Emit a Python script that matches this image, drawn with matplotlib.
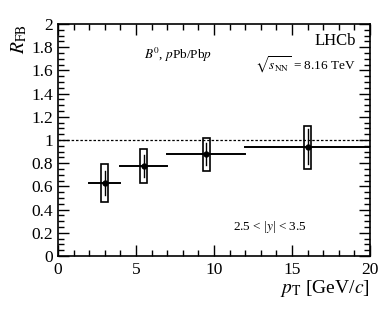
import matplotlib
matplotlib.use("Agg")
import matplotlib.pyplot as plt
from matplotlib.patches import Rectangle
from matplotlib.ticker import MultipleLocator

plt.rcParams['font.family'] = ['Liberation Serif', 'DejaVu Serif']
plt.rcParams['mathtext.fontset'] = 'stix'

# data
pt_lo = [2.0, 4.0, 7.0, 12.0]
pt_hi = [4.0, 7.0, 12.0, 20.0]
pt_c = [3.0, 5.5, 9.5, 16.0]
rfb = [0.632, 0.779, 0.879, 0.943]
stat_up = [0.735, 0.871, 0.971, 1.092]
stat_dn = [0.526, 0.684, 0.784, 0.793]
sys_up = [0.796, 0.922, 1.020, 1.123]
sys_dn = [0.463, 0.629, 0.735, 0.753]
xticks = [0, 5, 10, 15, 20]
xticklabels = ['0', '5', '10', '15', '20']
yticks = [0, 0.2, 0.4, 0.6, 0.8, 1.0, 1.2, 1.4, 1.6, 1.8, 2.0]
yticklabels = ['0', '0.2', '0.4', '0.6', '0.8', '1', '1.2', '1.4', '1.6', '1.8', '2']
box_w = 0.45

fig = plt.figure(figsize=(3.9, 3.09), dpi=100)
ax = fig.add_axes([58/390, 1-256/309, 312/390, 232/309])

ax.axhline(1.0, color='black', linestyle=(0, (2, 1.5)), linewidth=0.9)

for i in range(len(pt_c)):
    ax.plot([pt_lo[i], pt_hi[i]], [rfb[i], rfb[i]], color='black', lw=1.4)
    ax.plot([pt_c[i], pt_c[i]], [stat_dn[i], stat_up[i]], color='black', lw=1.0)
    ax.add_patch(Rectangle((pt_c[i]-box_w/2, sys_dn[i]), box_w, sys_up[i]-sys_dn[i],
                           fill=False, edgecolor='black', lw=1.2))
    ax.plot(pt_c[i], rfb[i], 'o', color='black', ms=3.5)

ax.set_xticks(xticks)
ax.set_xticklabels(xticklabels)
ax.set_yticks(yticks)
ax.set_yticklabels(yticklabels)
ax.xaxis.set_minor_locator(MultipleLocator(1))
ax.yaxis.set_minor_locator(MultipleLocator(0.05))
ax.set_xlim(0, 20)
ax.set_ylim(0, 2)
ax.tick_params(which='both', direction='in', top=True, right=True, labelsize=12.5, width=1.0)
ax.tick_params(which='major', length=8)
ax.tick_params(which='minor', length=4)
ax.tick_params(axis='x', pad=4)
for s in ax.spines.values():
    s.set_linewidth(1.2)

ax.set_xlabel(r'$p_{\mathrm{T}}$ [GeV/$c$]', fontsize=14, loc='right', labelpad=0)
ax.set_ylabel(r'$R_{\mathrm{FB}}$', fontsize=14, loc='top', labelpad=2)

ax.text(0.955, 0.925, 'LHCb', transform=ax.transAxes, ha='right', va='center', fontsize=12)
ax.text(0.955, 0.825, r'$\sqrt{s_{\mathrm{NN}}}$ = 8.16 TeV', transform=ax.transAxes,
        ha='right', va='center', fontsize=9.5)
ax.text(0.276, 0.865, r'$B^0$, $p$Pb/Pb$p$', transform=ax.transAxes, ha='left', va='center', fontsize=9.5)
ax.text(0.56, 0.125, r'2.5 < |$y$| < 3.5', transform=ax.transAxes, ha='left', va='center', fontsize=9.5)

fig.savefig('out.png', dpi=100)
